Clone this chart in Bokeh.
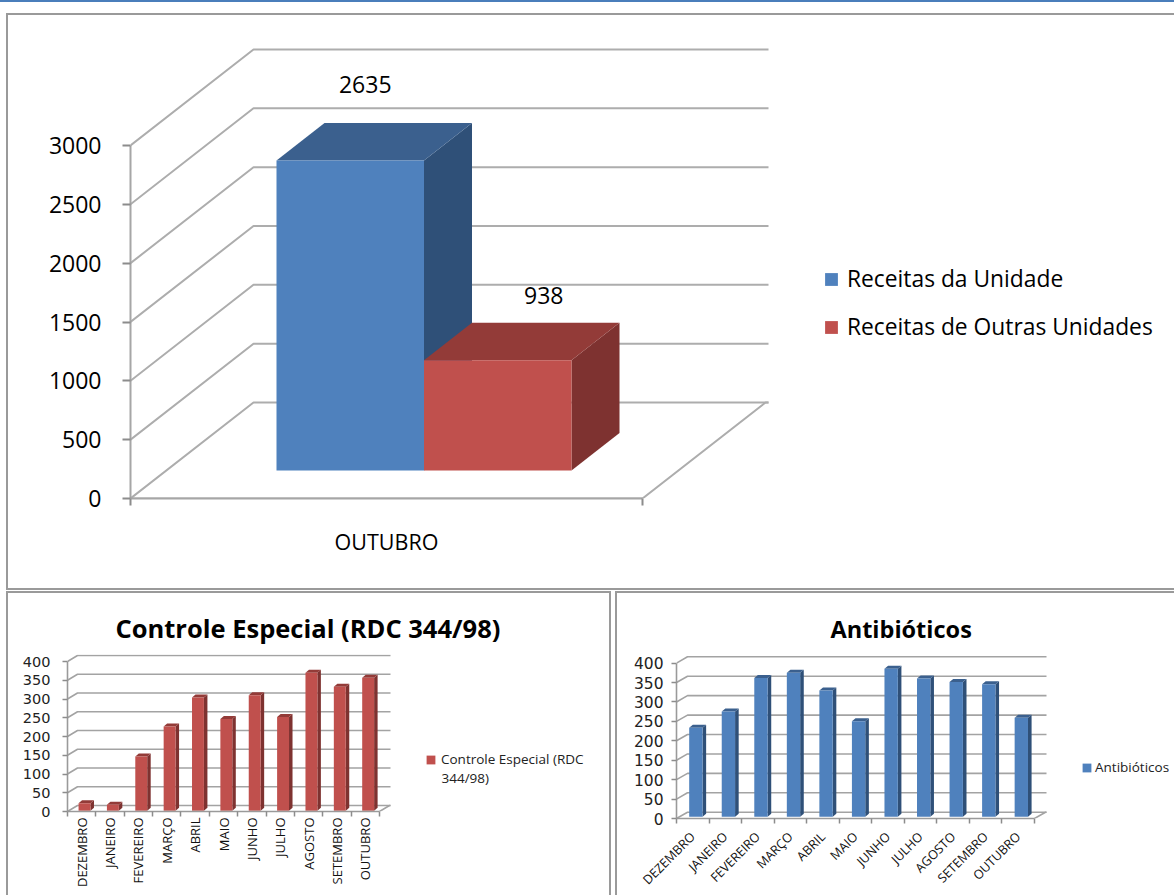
from bokeh.plotting import figure
from bokeh.layouts import column, row
from bokeh.models import Range1d, FixedTicker, Legend, LegendItem
from bokeh.core.properties import value
from bokeh.embed import file_html
from bokeh.resources import INLINE
import math

top_category = ["OUTUBRO"]
top_series = ["Receitas da Unidade", "Receitas de Outras Unidades"]
top_values = [2635, 938]
top_ticks = [0, 500, 1000, 1500, 2000, 2500, 3000]

months = ["DEZEMBRO", "JANEIRO", "FEVEREIRO", "MARÇO", "ABRIL", "MAIO",
          "JUNHO", "JULHO", "AGOSTO", "SETEMBRO", "OUTUBRO"]
controle_name = "Controle Especial (RDC 344/98)"
controle_legend = ["Controle Especial (RDC", "344/98)"]
controle_values = [20, 16, 145, 225, 302, 245, 308, 250, 368, 331, 355]
antibioticos_name = "Antibióticos"
antibioticos_values = [229, 271, 357, 371, 325, 246, 381, 356, 347, 341, 255]
small_ticks = [0, 50, 100, 150, 200, 250, 300, 350, 400]

BLUE = ("#4f81bd", "#3b608e", "#2f5078")
RED = ("#c0504d", "#933b38", "#7e3230")
PANEL = "#9a9a9a"


def make_fig(w, h, left, bottom, top, px_x, px_y, n, ymax_ticks, ticks, title=None):
    frame_w = w - left
    frame_h = h - bottom - top
    p = figure(width=w, height=h, frame_width=frame_w, frame_height=frame_h,
               output_backend="svg", toolbar_location=None,
               x_range=Range1d(0, frame_w / px_x), y_range=Range1d(0, frame_h / px_y),
               min_border_left=left, min_border_right=0, min_border_bottom=bottom,
               min_border_top=top, outline_line_color=None,
               background_fill_alpha=0, border_fill_alpha=0, title=title)
    p.grid.visible = False
    ya = p.yaxis[0]
    ya.ticker = FixedTicker(ticks=ticks)
    ya.bounds = (0, ymax_ticks)
    ya.minor_tick_line_color = None
    xa = p.xaxis[0]
    centres = [i + 0.5 for i in range(n)]
    xa.ticker = FixedTicker(ticks=centres, minor_ticks=list(range(n + 1)))
    xa.bounds = (0, n)
    xa.major_tick_line_color = None
    xa.major_tick_in = 0
    xa.major_tick_out = 0
    xa.minor_tick_in = 0
    return p, xa, ya, centres


def walls(p, n, ticks, dx, dy, back_end, color, width):
    xs, ys = [], []
    for t in ticks:
        xs.append([0, dx, back_end])
        ys.append([t, t + dy, t + dy])
    p.multi_line(xs, ys, line_color=color, line_width=width)
    p.line([n, n + dx, back_end], [0, dy, dy], line_color=color, line_width=width)


def bars(p, lefts, rights, vals, base, dx, dy, colors):
    front, topc, side = colors
    p.patches([[r, r + dx, r + dx, r] for r in rights],
              [[base, base + dy, v + base + dy, v + base] for v in vals],
              fill_color=side, line_color=None)
    p.patches([[l, l + dx, r + dx, r] for l, r in zip(lefts, rights)],
              [[v + base, v + base + dy, v + base + dy, v + base] for v in vals],
              fill_color=topc, line_color=None)
    return p.quad(left=lefts, right=rights, bottom=[base] * len(vals),
                  top=[v + base for v in vals], fill_color=front, line_color=None)


def panel_lines(p, rects):
    parts = [f"linear-gradient({c},{c}) {x}px {y}px / {w}px {h}px no-repeat" for x, y, w, h, c in rects]
    p.styles = {"background": ", ".join(parts)}


# ---------- top chart
px_y = 353 / 3000
px_x = 512.0
top, xa, ya, centres = make_fig(1174, 590, 130, 92, 20, px_x, px_y, 1, 3000, top_ticks)
ddx, ddy = 123 / px_x, 96 / px_y
walls(top, 1, top_ticks, ddx, ddy, 638 / px_x, "#adadad", 2)
top.line([0, 1], [0, 0], line_color="#adadad", line_width=2)
xa.major_label_overrides = {centres[0]: top_category[0]}
for ax in (xa, ya):
    ax.axis_line_color = "#a6a6a6"
    ax.axis_line_width = 2
    ax.major_label_text_font = "Open Sans"
    ax.major_label_text_color = "black"
ya.major_tick_line_color = "#8c8c8c"
ya.major_tick_line_width = 2
ya.major_tick_in = 0
ya.major_tick_out = 8
ya.major_label_standoff = 21
ya.major_label_text_font_size = "23px"
xa.minor_tick_line_color = "#8c8c8c"
xa.minor_tick_line_width = 2
xa.minor_tick_out = 7
xa.major_label_standoff = 21
xa.major_label_text_font_size = "21.5px"

bdx, bdy = 48 / px_x, 37.5 / px_y
base = 28 / px_y
x0 = 146 / px_x
bw = 147.5 / px_x
r1 = bars(top, [x0], [x0 + bw], [top_values[0]], base, bdx, bdy, BLUE)
r2 = bars(top, [x0 + bw], [x0 + 2 * bw], [top_values[1]], base, bdx, bdy, RED)
top.text(x=[x0 + bw * 0.5 + 15 / px_x, x0 + bw * 1.5 + 46 / px_x],
         y=[top_values[0] + base + 76 / px_y, top_values[1] + base + 65 / px_y],
         text=[str(v) for v in top_values], text_font=value("Open Sans"),
         text_font_size="23px", text_align="center", text_baseline="middle", text_color="black")
lg = Legend(items=[LegendItem(label=top_series[0], renderers=[r1]),
                   LegendItem(label=top_series[1], renderers=[r2])],
            location=(693, 156), orientation="vertical", padding=0, margin=0, spacing=17,
            glyph_width=16, glyph_height=16, label_standoff=8,
            label_text_font="Open Sans", label_text_font_size="22.8px", label_text_color="black",
            border_line_color=None, background_fill_alpha=0)
top.add_layout(lg)
panel_lines(top, [(0, 0, 1174, 2, "#4a7ebb"), (7, 13, 1167, 2, PANEL),
                  (6, 13, 2, 577, PANEL), (6, 588, 1168, 2, PANEL)])


def small_chart(w, left, bottom, toppad, px_x, px_y, vals, colors, name, legend_label, lab_size, y_size,
                y_stand, orient, bar_x, bar_w, bar_dx, bar_dy, base_px, wall_dx, wall_dy, wall_end,
                title_off, title_size, lg_loc, lab_standoff, standoff_leg):
    h = 305
    p, xa, ya, centres = make_fig(w, h, left, bottom, toppad, px_x, px_y, 11, 400, small_ticks,
                                  title=name)
    walls(p, 11, small_ticks, wall_dx / px_x, wall_dy / px_y, wall_end / px_x, "#a3a3a3", 1.6)
    p.title.align = "left"
    p.title.offset = title_off
    p.title.vertical_align = "middle"
    p.title.text_font = "Open Sans"
    p.title.text_font_size = title_size
    p.title.text_font_style = "bold"
    p.title.text_color = "black"
    p.title.standoff = 18
    xa.major_label_overrides = {c: m for c, m in zip(centres, months)}
    xa.major_label_orientation = orient
    xa.major_label_standoff = lab_standoff
    xa.major_label_text_font = "Open Sans"
    xa.major_label_text_font_size = lab_size
    xa.major_label_text_color = "#111111"
    ya.major_label_text_font = "DejaVu Sans"
    ya.major_label_text_font_size = y_size
    ya.major_label_text_color = "#222222"
    ya.major_label_standoff = y_stand
    ya.major_tick_in = 0
    ya.major_tick_out = 5
    ya.major_tick_line_color = "#8c8c8c"
    ya.major_tick_line_width = 1.5
    xa.minor_tick_line_color = "#8c8c8c"
    xa.minor_tick_line_width = 1.5
    xa.minor_tick_out = 5
    for ax in (xa, ya):
        ax.axis_line_color = "#9a9a9a"
        ax.axis_line_width = 1.6
    lefts = [i + bar_x for i in range(11)]
    rights = [l + bar_w for l in lefts]
    r = bars(p, lefts, rights, vals, base_px / px_y, bar_dx / px_x, bar_dy / px_y, colors)
    leg = Legend(items=[LegendItem(label=legend_label, renderers=[r])], location=lg_loc, padding=0, margin=0,
                 glyph_width=11, glyph_height=11, label_standoff=standoff_leg,
                 label_text_font="Open Sans", label_text_font_size="13.5px", label_text_color="#222222",
                 border_line_color=None, background_fill_alpha=0)
    p.add_layout(leg)
    return p


l_px_x, l_px_y = 312 / 11, 150 / 400
left = small_chart(612, 67, 84, 64, l_px_x, l_px_y, controle_values, RED, controle_name, controle_legend[0],
                   "13px", "14.5px", 12, math.pi / 2, 0.39, 0.42, 3.5, 3, 0.7, 10, 6, 323,
                   48, "25.5px", (358, 43), 1, 5)
left.text(x=[374 / l_px_x], y=[34 / l_px_y], text=[controle_legend[1]], text_font=value("Open Sans"),
          text_font_size="13.5px", text_align="left", text_baseline="middle", text_color="#222222")
panel_lines(left, [(6, 1, 605, 2, PANEL), (6, 1, 2, 304, PANEL), (609, 1, 2, 304, PANEL)])
right = small_chart(562, 64, 77, 64, 358 / 11, 155.4 / 400, antibioticos_values, BLUE, antibioticos_name, antibioticos_name,
                    "12.6px", "15.5px", 8, math.pi / 4, 0.39, 0.41, 3.6, 3, 1.7, 11, 6.3, 370,
                    154, "23.5px", (405, 42), 11, 3)
panel_lines(right, [(3, 1, 559, 2, PANEL), (3, 1, 2, 304, PANEL)])

page = column(top, row(left, right, spacing=0), spacing=0)
open("out.html", "w").write(file_html(page, INLINE))
